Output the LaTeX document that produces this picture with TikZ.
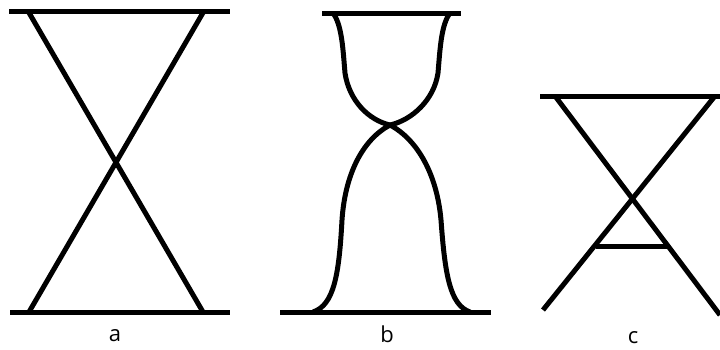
\documentclass[tikz,border=0pt]{standalone}
\usepackage{fontspec}
\setmainfont{Open Sans}
\begin{document}
\begin{tikzpicture}[x=1pt,y=-1pt,
  stroke/.style={line width=5pt,black},
  lbl/.style={font=\fontsize{22}{24}\selectfont,inner sep=0pt}]
\useasboundingbox (0,0) rectangle (720,349);
% ---- panel a
\coordinate (a-tl) at (9,11);   \coordinate (a-tr) at (230,11);
\coordinate (a-bl) at (10,312); \coordinate (a-br) at (230,312);
\coordinate (a-1) at (28,11);   \coordinate (a-2) at (204,11);
\coordinate (a-3) at (29,312);  \coordinate (a-4) at (203,312);
\draw[stroke] (a-tl) -- (a-tr);
\draw[stroke] (a-bl) -- (a-br);
\draw[stroke] (a-1) -- (a-4);
\draw[stroke] (a-2) -- (a-3);
\node[lbl] (la) at (115,336) {a};
% ---- panel b
\coordinate (b-tl) at (322,13); \coordinate (b-tr) at (461,13);
\coordinate (b-bl) at (280,312); \coordinate (b-br) at (491,312);
\coordinate (b-x) at (390,125);
\draw[stroke] (b-tl) -- (b-tr);
\draw[stroke] (b-bl) -- (b-br);
\draw[stroke] (333,13) .. controls (342,25) and (343,50) .. (345,73)
   .. controls (349,100) and (368,120) .. (b-x);
\draw[stroke] (450,13) .. controls (441,25) and (440,50) .. (438,73)
   .. controls (434,100) and (412,120) .. (b-x);
\draw[stroke] (b-x) .. controls (418,140) and (437,175) .. (441,220)
   .. controls (445,275) and (450,305) .. (470,312);
\draw[stroke] (b-x) .. controls (362,140) and (345,175) .. (342,220)
   .. controls (339,275) and (334,305) .. (313,312);
\node[lbl] (lb) at (387,334) {b};
% ---- panel c
\coordinate (c-tl) at (540,96); \coordinate (c-tr) at (720,96);
\coordinate (c-1) at (555,96);  \coordinate (c-2) at (715,96);
\coordinate (c-3) at (543,310); \coordinate (c-4) at (720,315);
\coordinate (c-hl) at (596,246); \coordinate (c-hr) at (668,246);
\draw[stroke] (c-tl) -- (c-tr);
\draw[stroke] (c-1) -- (c-4);
\draw[stroke] (c-2) -- (c-3);
\draw[stroke] (c-hl) -- (c-hr);
\node[lbl] (lc) at (633,338) {c};
\end{tikzpicture}
\end{document}
